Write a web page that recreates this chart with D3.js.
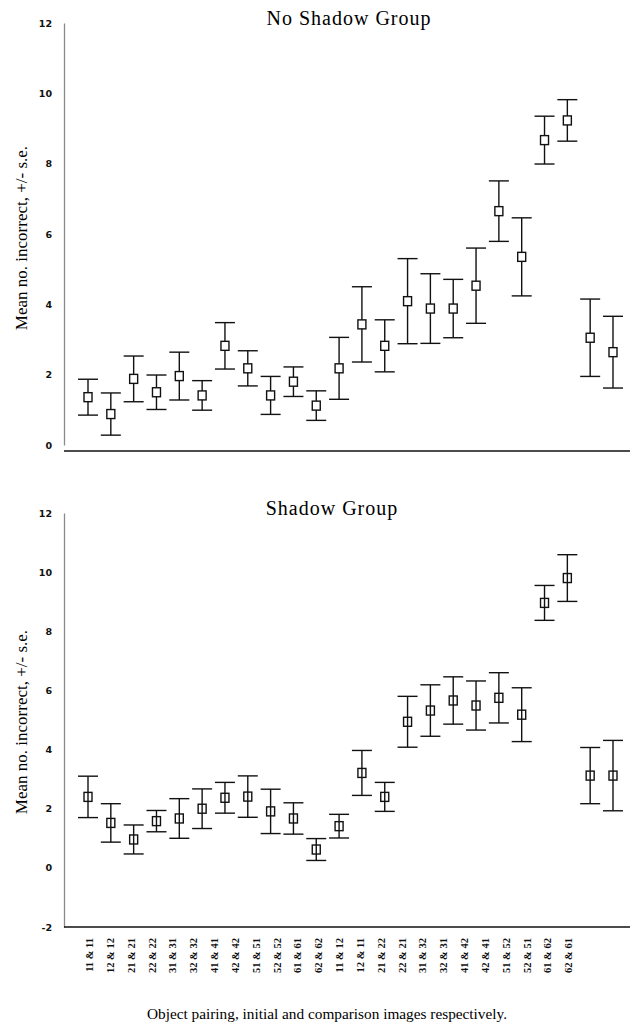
<!DOCTYPE html>
<html>
<head>
<meta charset="utf-8">
<script src="https://d3js.org/d3.v7.min.js"></script>
<style>
    body { margin: 0; background: #fff; }
    svg { display: block; }
</style>
</head>
<body>
<div id="chart"></div>
<script>

// object pairings (initial & comparison)
let pairings = ["11 & 11", "12 & 12", "21 & 21", "22 & 22", "31 & 31", "32 & 32",
    "41 & 41", "42 & 42", "51 & 51", "52 & 52", "61 & 61", "62 & 62",
    "11 & 12", "12 & 11", "21 & 22", "22 & 21", "31 & 32", "32 & 31",
    "41 & 42", "42 & 41", "51 & 52", "52 & 51", "61 & 62", "62 & 61"];

// No Shadow Group
let noShadowMean = [1.36, 0.88, 1.88, 1.50, 1.96, 1.41, 2.82, 2.18, 1.41, 1.80, 1.12, 2.18,
    3.43, 2.82, 4.09, 3.88, 3.88, 4.53, 6.65, 5.35, 8.67, 9.23, 3.05, 2.64];
let noShadowSe = [0.51, 0.60, 0.65, 0.49, 0.68, 0.42, 0.66, 0.50, 0.54, 0.42, 0.42, 0.88,
    1.07, 0.74, 1.21, 0.99, 0.83, 1.07, 0.86, 1.11, 0.68, 0.59, 1.10, 1.02];

// Shadow Group
let shadowMean = [2.40, 1.52, 0.96, 1.58, 1.67, 2.00, 2.37, 2.41, 1.91, 1.67, 0.62, 1.41,
    3.21, 2.40, 4.94, 5.32, 5.66, 5.49, 5.75, 5.18, 8.96, 9.80, 3.12, 3.12];
let shadowSe = [0.70, 0.65, 0.49, 0.36, 0.67, 0.67, 0.52, 0.70, 0.75, 0.53, 0.37, 0.40,
    0.76, 0.49, 0.86, 0.87, 0.80, 0.83, 0.85, 0.91, 0.59, 0.79, 0.95, 1.19];

// y ticks
let topTicks = [0, 2, 4, 6, 8, 10, 12];
let bottomTicks = [-2, 0, 2, 4, 6, 8, 10, 12];

let width = 630, height = 1029;

let svg = d3.select("#chart").append("svg")
    .attr("width", width)
    .attr("height", height);

// shared x scale for the markers
let x = d3.scalePoint().domain(pairings).range([88, 613]);


class ErrorBarVis {

    constructor(svg, title, mean, se, opts) {
        this.svg = svg;
        this.title = title;
        this.mean = mean;
        this.se = se;
        this.opts = opts;
        this.initVis();
    }

    initVis() {
        let vis = this;
        let o = vis.opts;

        vis.g = vis.svg.append("g");

        vis.y = d3.scaleLinear().domain(o.domain).range(o.range);

        // title
        vis.g.append("text")
            .attr("x", o.titleX)
            .attr("y", o.titleY)
            .attr("text-anchor", "middle")
            .attr("font-family", "Liberation Serif")
            .attr("font-size", "20px")
            .attr("letter-spacing", "1px")
            .text(vis.title);

        // y axis
        let yAxis = vis.g.append("g")
            .attr("class", "y-axis")
            .attr("transform", "translate(64,0)")
            .call(d3.axisLeft(vis.y).tickValues(o.ticks).tickSize(0).tickPadding(12)
                .tickFormat(d => String(d)));
        yAxis.select(".domain").attr("stroke", "#8a8a8a").attr("stroke-width", 1.3);
        yAxis.selectAll("text")
            .attr("font-family", "DejaVu Sans")
            .attr("font-weight", "bold")
            .attr("font-size", "9.5px")
            .attr("fill", "#111");

        // axis title
        vis.g.append("text")
            .attr("transform", `translate(27, ${o.labelY}) rotate(-90)`)
            .attr("text-anchor", "middle")
            .attr("font-family", "Liberation Serif")
            .attr("font-size", "17px")
            .text("Mean no. incorrect, +/- s.e.");

        // x axis line
        vis.g.append("line")
            .attr("x1", 64).attr("x2", 630)
            .attr("y1", o.baseY).attr("y2", o.baseY)
            .attr("stroke", "#111")
            .attr("stroke-width", 1.6);

        vis.wrangleData();
    }

    wrangleData() {
        let vis = this;
        vis.displayData = pairings.map((p, i) => ({
            pair: p,
            mean: vis.mean[i],
            lo: vis.mean[i] - vis.se[i],
            hi: vis.mean[i] + vis.se[i]
        }));
        vis.updateVis();
    }

    updateVis() {
        let vis = this;
        let cap = 10;

        let bars = vis.g.append("g").attr("class", "bars")
            .selectAll("g")
            .data(vis.displayData)
            .enter().append("g")
            .attr("stroke", "#111")
            .attr("stroke-width", 1.4);

        bars.append("line")
            .attr("x1", d => x(d.pair)).attr("x2", d => x(d.pair))
            .attr("y1", d => vis.y(d.hi)).attr("y2", d => vis.y(d.lo));

        bars.append("line")
            .attr("x1", d => x(d.pair) - cap).attr("x2", d => x(d.pair) + cap)
            .attr("y1", d => vis.y(d.hi)).attr("y2", d => vis.y(d.hi));

        bars.append("line")
            .attr("x1", d => x(d.pair) - cap).attr("x2", d => x(d.pair) + cap)
            .attr("y1", d => vis.y(d.lo)).attr("y2", d => vis.y(d.lo));

        bars.append("rect")
            .attr("x", d => x(d.pair) - 4)
            .attr("y", d => vis.y(d.mean) - 4.5)
            .attr("width", 8)
            .attr("height", 9)
            .attr("fill", vis.opts.markerFill);
    }
}

let noShadowVis = new ErrorBarVis(svg, "No Shadow Group", noShadowMean, noShadowSe, {
    domain: [0, 12], range: [445, 23], ticks: topTicks, baseY: 451,
    titleX: 349, titleY: 25, labelY: 238, markerFill: "#fff"
});

let shadowVis = new ErrorBarVis(svg, "Shadow Group", shadowMean, shadowSe, {
    domain: [-2, 12], range: [927, 513], ticks: bottomTicks, baseY: 927,
    titleX: 332, titleY: 515, labelY: 722, markerFill: "none"
});

// category labels along the bottom
let xLabels = d3.scalePoint().domain(pairings).range([89, 568]);

let xAxis = svg.append("g")
    .attr("class", "x-axis")
    .attr("transform", "translate(0,927)")
    .call(d3.axisBottom(xLabels).tickSize(0));
xAxis.select(".domain").remove();
xAxis.selectAll("text")
    .attr("transform", "rotate(-90)")
    .attr("x", -11)
    .attr("y", 0)
    .attr("dy", "0.35em")
    .style("text-anchor", "end")
    .attr("font-family", "Liberation Serif")
    .attr("font-weight", "bold")
    .attr("font-size", "10.5px")
    .attr("fill", "#111");

svg.append("text")
    .attr("x", 327)
    .attr("y", 1019)
    .attr("text-anchor", "middle")
    .attr("font-family", "Liberation Serif")
    .attr("font-size", "15.3px")
    .text("Object pairing, initial and comparison images respectively.");

</script>
</body>
</html>
